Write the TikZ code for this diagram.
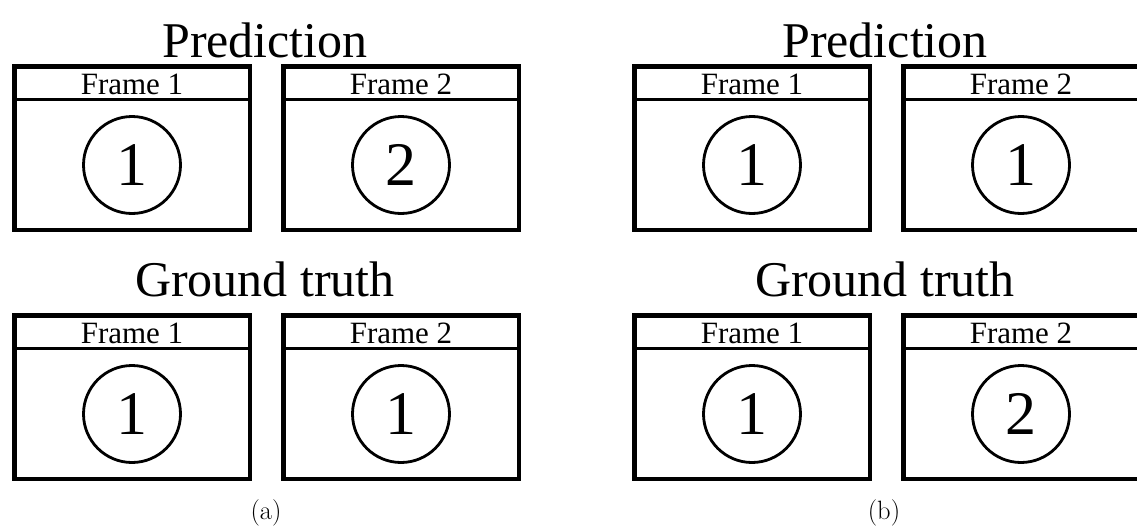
\documentclass[tikz,border=0pt]{standalone}
\usepackage{fontspec}
\newfontfamily\tnr{Liberation Serif}
\tikzset{
  frameline/.style={draw=black, line width=4.5pt},
  headline/.style={draw=black, line width=3.2pt},
  bigtitle/.style={font=\tnr\fontsize{50}{60}\selectfont, inner sep=0pt, anchor=base},
  ftitle/.style={font=\tnr\fontsize{31}{36}\selectfont, inner sep=0pt, anchor=base},
  numcircle/.style={draw=black, circle, line width=2.8pt, minimum size=97pt, inner sep=0pt, font=\tnr\fontsize{62}{70}\selectfont},
  sublabel/.style={font=\fontsize{26.5}{30}\selectfont, inner sep=0pt, anchor=base},
}
\newcommand\myframe[5]{%
  \draw[frameline] (#1-117.75,#2+2.25) rectangle (#1+117.75,#2+165.75);
  \draw[headline] (#1-117.75,#2+35.5) -- (#1+117.75,#2+35.5);
  \node[ftitle] (#5t) at (#1,#2+30.5) {#3};
  \node[numcircle] (#5c) at (#1,#2+101) {#4};
}
\begin{document}
\begin{tikzpicture}[x=1pt,y=-1pt]
  \useasboundingbox (0,0) rectangle (1137,527);
  \clip (0,0) rectangle (1137,527);
  % panel (a)
  \node[bigtitle] (apred) at (265,57) {Prediction};
  \myframe{132}{64}{Frame 1}{1}{ap1}
  \myframe{401}{64}{Frame 2}{2}{ap2}
  \node[bigtitle] (agt) at (265,296) {Ground truth};
  \myframe{132}{313}{Frame 1}{1}{ag1}
  \myframe{401}{313}{Frame 2}{1}{ag2}
  \node[sublabel] (alab) at (266,519) {(a)};
  % panel (b)
  \node[bigtitle] (bpred) at (885,57) {Prediction};
  \myframe{752}{64}{Frame 1}{1}{bp1}
  \myframe{1021}{64}{Frame 2}{1}{bp2}
  \node[bigtitle] (bgt) at (885,296) {Ground truth};
  \myframe{752}{313}{Frame 1}{1}{bg1}
  \myframe{1021}{313}{Frame 2}{2}{bg2}
  \node[sublabel] (blab) at (884,519) {(b)};
\end{tikzpicture}
\end{document}
